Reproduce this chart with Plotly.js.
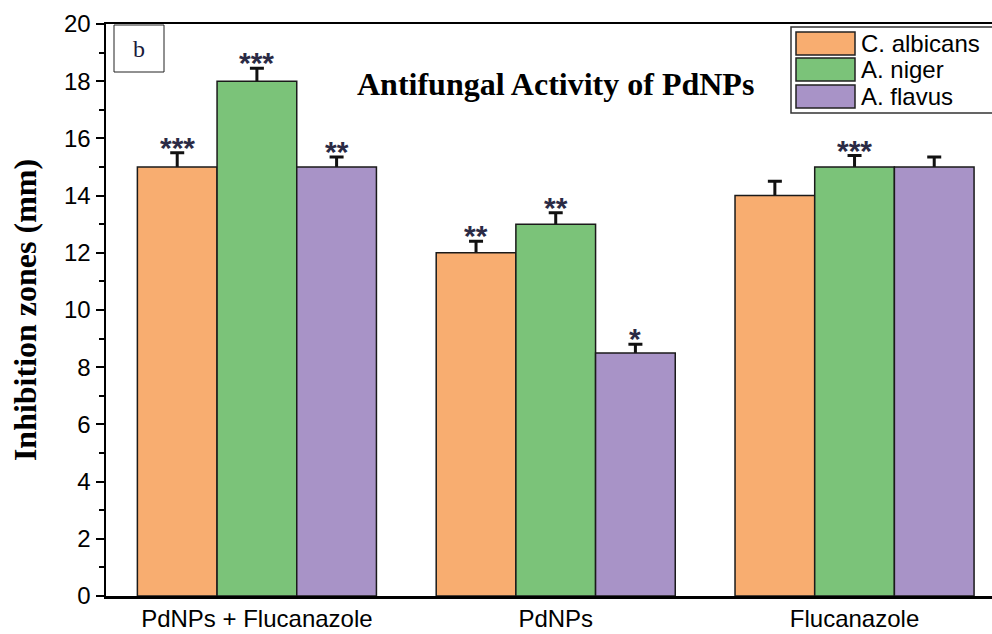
<!DOCTYPE html>
<html>
<head>
<meta charset="utf-8">
<script src="https://cdn.plot.ly/plotly-3.0.1.min.js"></script>
<style>html,body{margin:0;padding:0;background:#fff;}#chart{width:992px;height:634px;}</style>
</head>
<body>
<div id="chart"></div>
<script>
// ---- data ----
const categories = ["PdNPs + Flucanazole", "PdNPs", "Flucanazole"];
const seriesNames = ["C. albicans", "A. niger", "A. flavus"];
const cAlbicans = [15, 12, 14];
const aNiger = [18, 13, 15];
const aFlavus = [15, 8.5, 15];
const cAlbicansErr = [0.5, 0.4, 0.5];
const aNigerErr = [0.45, 0.4, 0.4];
const aFlavusErr = [0.35, 0.3, 0.35];
const cAlbicansSig = ["***", "**", ""];
const aNigerSig = ["***", "**", "***"];
const aFlavusSig = ["**", "*", ""];
const yTickVals = [0, 2, 4, 6, 8, 10, 12, 14, 16, 18, 20];

// ---- styles ----
const colors = ["#F8AD70", "#7BC379", "#A893C7"];
const W = 992, H = 634;
const M = {l: 106, r: 0, t: 24, b: 38};
const pw = W - M.l - M.r, ph = H - M.t - M.b;
const px = x => (x - M.l) / pw;
const py = y => (H - M.b - y) / ph;

const values = [cAlbicans, aNiger, aFlavus];
const errs = [cAlbicansErr, aNigerErr, aFlavusErr];
const sigs = [cAlbicansSig, aNigerSig, aFlavusSig];

// error bars (bars themselves invisible) on the base subplot
const errTraces = seriesNames.map((name, j) => ({
  type: "bar",
  name: name,
  x: categories,
  y: values[j],
  marker: {color: "rgba(0,0,0,0)", line: {width: 0}},
  error_y: {type: "data", array: errs[j], visible: true, color: "#111", thickness: 3, width: 7},
  showlegend: false,
  hoverinfo: "skip"
}));
// visible bars on an overlaying subplot, hiding the lower half of each error bar
const barTraces = seriesNames.map((name, j) => ({
  type: "bar",
  name: name,
  x: categories,
  y: values[j],
  xaxis: "x2", yaxis: "y2",
  marker: {color: colors[j], line: {color: "#1a1a1a", width: 1.5}},
  showlegend: false,
  hoverinfo: "skip"
}));

const annotations = [];
const shapes = [];
const barW = 0.8 / 3;
sigs.forEach((arr, j) => {
  arr.forEach((s, i) => {
    if (!s) return;
    annotations.push({
      x: i + (j - 1) * barW, xref: "x",
      y: values[j][i] + errs[j][i], yref: "y",
      text: "<b>" + s + "</b>", showarrow: false, yanchor: "bottom", yshift: -13,
      font: {family: "Liberation Sans, Arial", size: 30, color: "#2b2b45"}
    });
  });
});

// title
annotations.push({
  x: px(555), y: py(84), xref: "paper", yref: "paper",
  text: "<b>Antifungal Activity of PdNPs</b>", showarrow: false,
  xanchor: "center", yanchor: "middle",
  font: {family: "Liberation Serif, Times New Roman, serif", size: 32, color: "#000"}
});

// panel label box
shapes.push({type: "rect", xref: "paper", yref: "paper",
  x0: px(114), x1: px(164), y0: py(72), y1: py(25),
  line: {color: "#222", width: 1}, fillcolor: "#fff"});
annotations.push({
  x: px(139), y: py(49), xref: "paper", yref: "paper",
  text: "b", showarrow: false, xanchor: "center", yanchor: "middle",
  font: {family: "Liberation Serif, Times New Roman, serif", size: 24, color: "#1a1a3a"}
});

// legend box
shapes.push({type: "rect", xref: "paper", yref: "paper",
  x0: px(791), x1: px(1000), y0: py(113), y1: py(27),
  line: {color: "#333", width: 1.5}, fillcolor: "#fff"});
const rowTops = [32, 58, 85];
seriesNames.forEach((name, j) => {
  shapes.push({type: "rect", xref: "paper", yref: "paper",
    x0: px(796), x1: px(855), y0: py(rowTops[j] + 23), y1: py(rowTops[j]),
    line: {color: "#222", width: 1.5}, fillcolor: colors[j]});
  annotations.push({
    x: px(859), y: py(rowTops[j] + 11.5), xref: "paper", yref: "paper",
    text: name, showarrow: false, xanchor: "left", yanchor: "middle",
    font: {family: "Liberation Sans, Arial", size: 24, color: "#000"}
  });
});

const xRange = [-0.505, 2.46];
const yRange = [0, 20];
const layout = {
  width: W, height: H,
  margin: M,
  paper_bgcolor: "#fff", plot_bgcolor: "#fff",
  barmode: "group", bargap: 0.2, bargroupgap: 0,
  showlegend: false,
  xaxis: {
    type: "category",
    range: xRange,
    showline: true, linecolor: "#000", linewidth: 2.5, mirror: true,
    ticks: "", showgrid: false, zeroline: false,
    tickfont: {family: "Liberation Sans, Arial", size: 24, color: "#000"},
    ticklabelstandoff: 0
  },
  yaxis: {
    range: yRange,
    tickvals: yTickVals,
    showline: true, linecolor: "#000", linewidth: 2.5,
    ticks: "outside", ticklen: 8, tickwidth: 2, tickcolor: "#000",
    minor: {dtick: 1, ticks: "outside", ticklen: 5, tickwidth: 2, tickcolor: "#000"},
    showgrid: false, zeroline: false,
    tickfont: {family: "Liberation Sans, Arial", size: 24, color: "#000"},
    title: {text: "<b>Inhibition zones (mm)</b>", standoff: 18,
      font: {family: "Liberation Serif, Times New Roman, serif", size: 32, color: "#000"}}
  },
  xaxis2: {type: "category", overlaying: "x", range: xRange, visible: false},
  yaxis2: {overlaying: "y", range: yRange, visible: false},
  annotations: annotations,
  shapes: shapes
};

Plotly.newPlot("chart", errTraces.concat(barTraces), layout, {displayModeBar: false, staticPlot: true});
</script>
</body>
</html>
